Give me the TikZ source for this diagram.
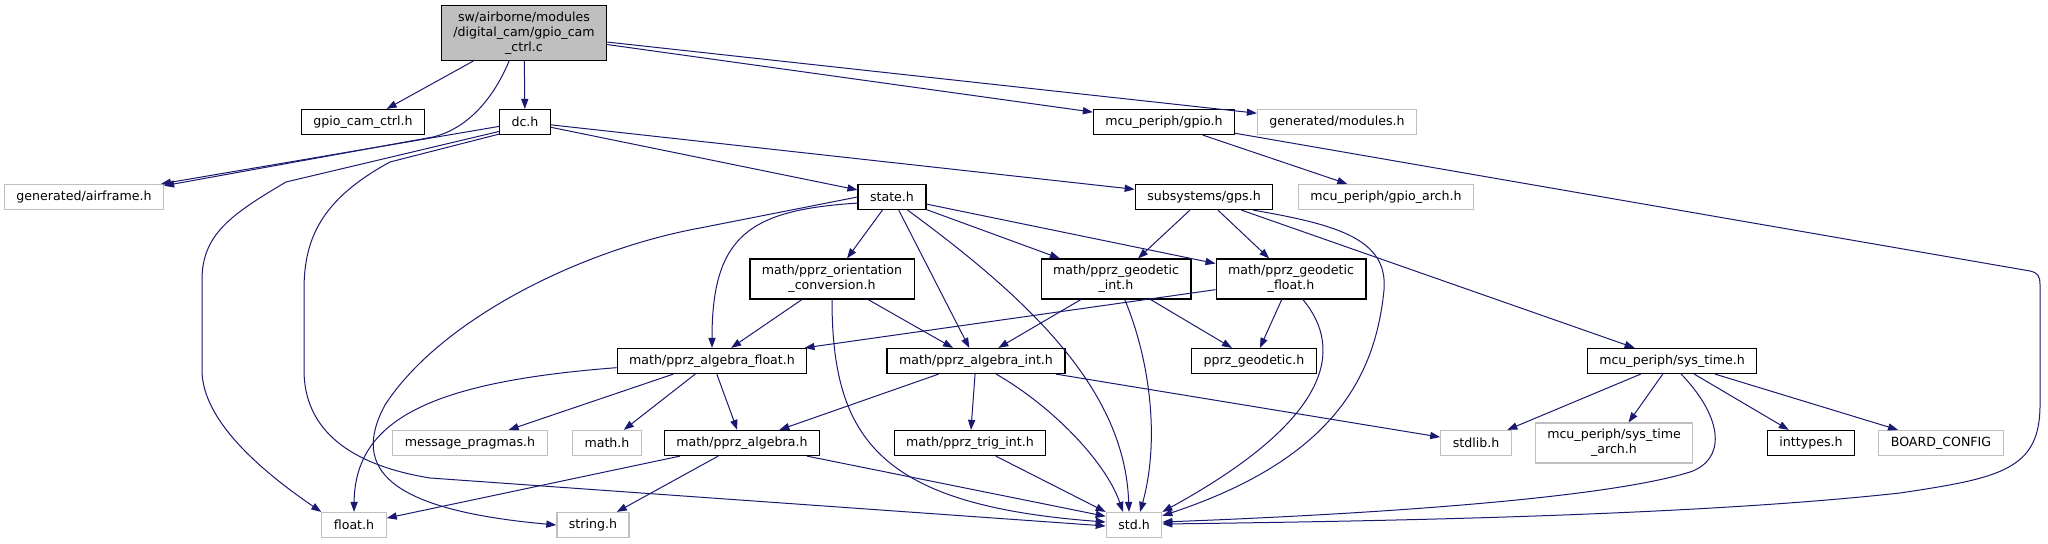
\documentclass[tikz,border=0pt]{standalone}
\usepackage{fontspec}
\setmainfont{DejaVu Sans}
\usetikzlibrary{arrows.meta}
\definecolor{edgeblue}{HTML}{191970}
\definecolor{lightgrey}{HTML}{BFBFBF}
\begin{document}
\begin{tikzpicture}[x=0.5pt, y=-0.5pt,
    every node/.style={rectangle, align=center, inner xsep=6pt, inner ysep=3.1pt, minimum height=12.5pt, font=\fontsize{6.3}{7.5}\selectfont},
    filebox/.style={draw=black, line width=0.6pt},
    extbox/.style={draw=lightgrey, line width=0.6pt},
    mainbox/.style={draw=black, fill=lightgrey, line width=0.6pt},
    incl/.style={draw=edgeblue, line width=0.5pt, -{Triangle[length=5pt,width=3.6pt]}}]
    \useasboundingbox (0,0) rectangle (2048,544);
    % files
    \node[mainbox] (root) at (524,33) {sw/airborne/modules\\/digital\_cam/gpio\_cam\\\_ctrl.c};
    \node[filebox] (gcch) at (363,122) {gpio\_cam\_ctrl.h};
    \node[filebox] (dch) at (525,122) {dc.h};
    \node[filebox] (gpioh) at (1164,122) {mcu\_periph/gpio.h};
    \node[extbox] (modules) at (1337,122) {generated/modules.h};
    \node[extbox] (airframe) at (84,197) {generated/airframe.h};
    \node[filebox] (state) at (892,197) {state.h};
    \node[filebox] (gps) at (1204,197) {subsystems/gps.h};
    \node[extbox] (gpioarch) at (1386,197) {mcu\_periph/gpio\_arch.h};
    \node[filebox] (orient) at (832,279) {math/pprz\_orientation\\\_conversion.h};
    \node[filebox] (geoint) at (1116,279) {math/pprz\_geodetic\\\_int.h};
    \node[filebox] (geofloat) at (1291,279) {math/pprz\_geodetic\\\_float.h};
    \node[filebox] (algfloat) at (712,361) {math/pprz\_algebra\_float.h};
    \node[filebox] (algint) at (976,361) {math/pprz\_algebra\_int.h};
    \node[filebox] (geodetic) at (1254,361) {pprz\_geodetic.h};
    \node[filebox] (systime) at (1672,361) {mcu\_periph/sys\_time.h};
    \node[extbox] (pragmas) at (470,443) {message\_pragmas.h};
    \node[extbox] (mathh) at (607,443) {math.h};
    \node[filebox] (algebra) at (742,443) {math/pprz\_algebra.h};
    \node[filebox] (trigint) at (970,443) {math/pprz\_trig\_int.h};
    \node[extbox] (stdlib) at (1476,443) {stdlib.h};
    \node[extbox] (systimearch) at (1614,443) {mcu\_periph/sys\_time\\\_arch.h};
    \node[filebox] (inttypes) at (1811,443) {inttypes.h};
    \node[extbox] (board) at (1941,443) {BOARD\_CONFIG};
    \node[extbox] (floath) at (354,525) {float.h};
    \node[extbox] (stringh) at (593,525) {string.h};
    \node[extbox] (stdh) at (1134,525) {std.h};
    % straight includes
    \foreach \a/\b in {root/gcch, root/dch, root/gpioh, root/modules, dch/airframe, dch/state, dch/gps,
        gpioh/gpioarch, state/orient, state/algint, state/geoint, state/geofloat, gps/geoint, gps/geofloat,
        gps/systime, orient/algfloat, orient/algint, geoint/algint, geoint/geodetic, geofloat/algfloat,
        geofloat/geodetic, algfloat/pragmas, algfloat/mathh, algfloat/algebra, algint/algebra, algint/trigint,
        algint/stdlib, algebra/floath, algebra/stringh, systime/stdlib, systime/systimearch,
        systime/inttypes, systime/board}
        \draw[incl] (\a) -- (\b);
    \draw[incl] (algebra) -- (stdh.163);
    \draw[incl] (trigint) -- (stdh.north west);
    % curved includes
    \draw[incl] (root.242) .. controls (495,95) and (470,128) .. (433,137) -- (airframe.8);
    \draw[incl] (dch.200) -- (286,182) .. controls (230,215) and (202,235) .. (202,280) -- (202,370)
        .. controls (202,420) and (260,470) .. (floath.north west);
    \draw[incl] (dch.205) -- (390,162) .. controls (320,200) and (304,240) .. (304,290) -- (304,370)
        .. controls (304,430) and (350,465) .. (430,478) -- (stdh.182);
    \draw[incl] (gpioh.-9) -- (2030,271) .. controls (2038,273) and (2040,276) .. (2040,285) -- (2040,405)
        .. controls (2040,470) and (2000,478) .. (1900,493) .. controls (1700,515) and (1400,521) .. (stdh.2);
    \draw[incl] (state.190) .. controls (750,210) and (712,235) .. (algfloat.north);
    \draw[incl] (state.-40) .. controls (1030,300) and (1125,390) .. (stdh.111);
    \draw[incl] (state.west) -- (700,228) .. controls (580,250) and (440,320) .. (385,405)
        .. controls (350,470) and (390,510) .. (stringh.west);
    \draw[incl] (algfloat.184) .. controls (430,382) and (355,420) .. (floath.north);
    \draw[incl] (orient.south) .. controls (832,440) and (880,505) .. (stdh.174);
    \draw[incl] (geoint.-67) .. controls (1150,360) and (1160,440) .. (stdh.65);
    \draw[incl] (geofloat.-60) .. controls (1345,350) and (1330,420) .. (stdh.north east);
    \draw[incl] (gps.-15) .. controls (1340,225) and (1388,240) .. (1384,290)
        .. controls (1375,380) and (1330,460) .. (stdh.18);
    \draw[incl] (algint.-33) .. controls (1050,405) and (1105,460) .. (stdh.130);
    \draw[incl] (systime.-55) .. controls (1725,420) and (1725,460) .. (1690,472)
        .. controls (1600,500) and (1350,515) .. (stdh.6);
\end{tikzpicture}
\end{document}
